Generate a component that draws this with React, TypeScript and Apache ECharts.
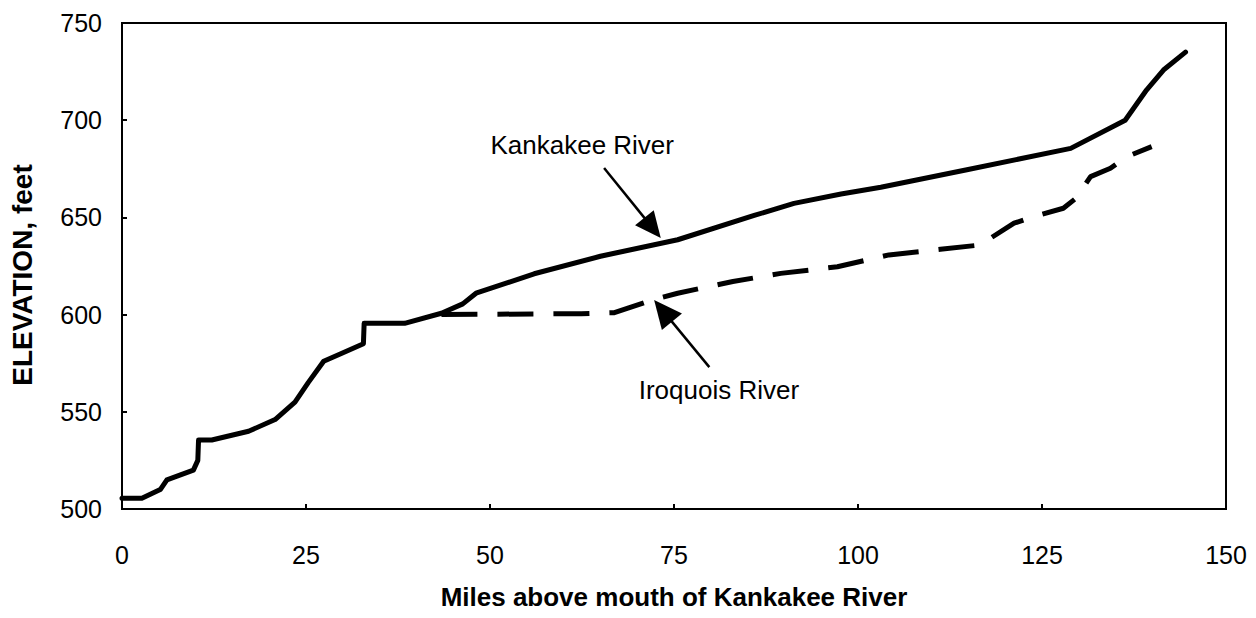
import { useEffect, useRef } from "react";
import * as echarts from "echarts";

// ---- data (miles above mouth, elevation in feet) ----
const xTicks = [0, 25, 50, 75, 100, 125, 150];
const yTicks = [500, 550, 600, 650, 700, 750];

const kankakeeMiles = [0, 2.7, 5.2, 6.1, 9.7, 10.3, 10.4, 12.2, 17.2, 20.8, 23.5, 25.3, 27.4, 29.8, 32.8, 32.9, 38.4, 43.4, 46.3, 48.1, 56, 65, 75.5, 85.9, 91.3, 97.7, 103.1, 114.8, 128.9, 136.3, 139.2, 141.5, 144.5];
const kankakeeElev = [505.5, 505.5, 510, 515, 520, 525, 535.5, 535.5, 540, 546, 555, 565, 576, 580, 585, 595.5, 595.5, 600.7, 605.5, 611, 621, 630, 638.5, 651, 657.2, 662, 665.5, 674.5, 685.5, 700, 715.5, 725.8, 735];

const iroquoisMiles = [43.4, 62.4, 66.9, 72, 75.5, 83, 89.5, 97.2, 104.2, 111.2, 116.6, 118, 121.2, 123.9, 127.9, 129.6, 131.6, 134.3, 136.5, 139.9];
const iroquoisElev = [600, 600.5, 601, 607.5, 611, 617, 621.2, 624.6, 630.7, 633.6, 635.8, 639.3, 647, 650.4, 654.7, 659.8, 671, 675.3, 681.2, 686.4];

const seriesNames = ["Kankakee River", "Iroquois River"];
const xTitle = "Miles above mouth of Kankakee River";
const yTitle = "ELEVATION, feet";

// annotation anchors in data units: [tail, tip]
const kankakeeArrow = [[65.5, 675.4], [73.2, 639.4]];
const iroquoisArrow = [[79.8, 573], [72.3, 607.5]];
const kankakeeLabelAt = [75.0, 687.2];
const iroquoisLabelAt = [81.1, 561.2];

const FONT = "'Liberation Sans', Arial, Helvetica, sans-serif";

function zip(a: number[], b: number[]) {
  return a.map((v, i) => [v, b[i]]);
}

export default function App() {
  const ref = useRef<HTMLDivElement>(null);
  useEffect(() => {
    if (!ref.current) return;
    const chart = echarts.init(ref.current, null, { renderer: "svg" });
    chart.setOption({
      animation: false,
      backgroundColor: "#ffffff",
      grid: {
        left: 120,
        right: 30,
        top: 23,
        bottom: 109,
        show: true,
        borderColor: "#000",
        borderWidth: 2,
        backgroundColor: "transparent",
      },
      xAxis: {
        type: "value",
        min: xTicks[0],
        max: xTicks[xTicks.length - 1],
        interval: 25,
        name: xTitle,
        nameLocation: "middle",
        nameGap: 75,
        nameTextStyle: { fontFamily: FONT, fontWeight: "bold", fontSize: 26, color: "#000" },
        axisLine: { show: true, onZero: false, lineStyle: { color: "#000", width: 2 } },
        axisTick: { show: true, inside: true, length: 5, lineStyle: { color: "#000", width: 2 } },
        axisLabel: { fontFamily: FONT, fontSize: 25, color: "#000", margin: 33 },
        splitLine: { show: false },
      },
      yAxis: {
        type: "value",
        min: yTicks[0],
        max: yTicks[yTicks.length - 1],
        interval: 50,
        name: yTitle,
        nameLocation: "middle",
        nameGap: 86,
        nameTextStyle: { fontFamily: FONT, fontWeight: "bold", fontSize: 28, color: "#000", padding: [0, 18, 0, 0] },
        axisLine: { show: true, onZero: false, lineStyle: { color: "#000", width: 2 } },
        axisTick: { show: true, inside: true, length: 5, lineStyle: { color: "#000", width: 2 } },
        axisLabel: { fontFamily: FONT, fontSize: 25, color: "#000", margin: 20 },
        splitLine: { show: false },
      },
      series: [
        {
          name: seriesNames[0],
          type: "line",
          data: zip(kankakeeMiles, kankakeeElev),
          showSymbol: false,
          symbol: "none",
          lineStyle: { color: "#000", width: 5, join: "round", cap: "round" },
          z: 3,
        },
        {
          name: seriesNames[1],
          type: "line",
          data: zip(iroquoisMiles, iroquoisElev),
          showSymbol: false,
          symbol: "none",
          lineStyle: { color: "#000", width: 5, type: [36, 20], cap: "butt" },
          z: 2,
        },
      ],
    });

    const px = (p: number[]) => chart.convertToPixel({ gridIndex: 0 }, p) as number[];
    const arrow = (tailD: number[], tipD: number[], headLen: number, halfW: number) => {
      const t = px(tailD);
      const h = px(tipD);
      const dx = h[0] - t[0];
      const dy = h[1] - t[1];
      const L = Math.hypot(dx, dy);
      const ux = dx / L;
      const uy = dy / L;
      const bx = h[0] - ux * headLen;
      const by = h[1] - uy * headLen;
      return [
        {
          type: "line",
          shape: { x1: t[0], y1: t[1], x2: bx + ux * 2, y2: by + uy * 2 },
          style: { stroke: "#000", lineWidth: 2.5 },
          z: 10,
        },
        {
          type: "polygon",
          shape: {
            points: [
              [h[0], h[1]],
              [bx - uy * halfW, by + ux * halfW],
              [bx + uy * halfW, by - ux * halfW],
            ],
          },
          style: { fill: "#000" },
          z: 10,
        },
      ];
    };
    const kl = px(kankakeeLabelAt);
    const il = px(iroquoisLabelAt);
    chart.setOption({
      graphic: [
        ...arrow(kankakeeArrow[0], kankakeeArrow[1], 26, 12),
        ...arrow(iroquoisArrow[0], iroquoisArrow[1], 28, 13),
        {
          type: "text",
          x: kl[0],
          y: kl[1],
          style: { text: seriesNames[0], font: `26px ${FONT}`, fill: "#000", align: "right", verticalAlign: "middle" },
          z: 10,
        },
        {
          type: "text",
          x: il[0],
          y: il[1],
          style: { text: seriesNames[1], font: `26px ${FONT}`, fill: "#000", align: "center", verticalAlign: "middle" },
          z: 10,
        },
      ],
    });

    return () => chart.dispose();
  }, []);
  return <div ref={ref} style={{ position: "fixed", left: 0, top: 0, width: 1256, height: 618 }} />;
}
